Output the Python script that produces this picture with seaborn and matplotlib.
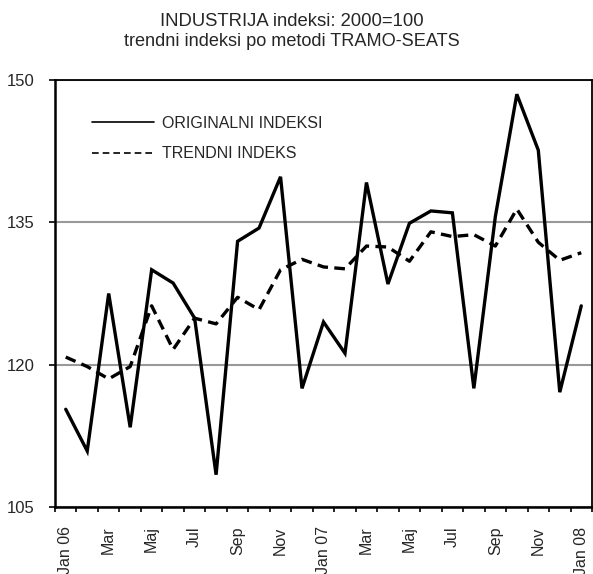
import numpy as np
import pandas as pd
import matplotlib
matplotlib.use("Agg")
import matplotlib.pyplot as plt
from matplotlib.lines import Line2D
import seaborn as sns

# ---- data ----
months = ["Jan 06", "Feb", "Mar", "Apr", "Maj", "Jun", "Jul", "Avg", "Sep", "Okt", "Nov", "Dec",
          "Jan 07", "Feb", "Mar", "Apr", "Maj", "Jun", "Jul", "Avg", "Sep", "Okt", "Nov", "Dec",
          "Jan 08"]
original = [115.3, 110.9, 127.5, 113.4, 130.0, 128.6, 124.9, 108.4, 133.0, 134.4, 139.8, 117.5,
            124.5, 121.2, 139.2, 128.5, 134.9, 136.2, 136.0, 117.5, 135.6, 148.5, 142.6, 117.1,
            126.2]
trend = [120.8, 119.8, 118.5, 119.8, 126.2, 121.6, 124.9, 124.3, 127.1, 125.8, 130.0, 131.1,
         130.3, 130.1, 132.5, 132.4, 130.9, 134.0, 133.5, 133.7, 132.5, 136.4, 132.9, 131.0,
         131.8]
series_names = ["ORIGINALNI INDEKSI", "TRENDNI INDEKS"]
title_lines = ["INDUSTRIJA indeksi: 2000=100", "trendni indeksi po metodi TRAMO-SEATS"]
y_ticks = [105, 120, 135, 150]

sns.set_theme(style="white")
plt.rcParams["font.family"] = ["Liberation Sans", "DejaVu Sans"]

df = pd.DataFrame({"idx": np.arange(len(months)), "orig": original, "trend": trend})

W, H = 593, 574
fig = plt.figure(figsize=(W / 100, H / 100), dpi=100)
L, R, T, B = 55, 592, 80, 507
ax = fig.add_axes([L / W, 1 - B / H, (R - L) / W, (B - T) / H])

sns.lineplot(data=df, x="idx", y="orig", ax=ax, color="black", lw=2.4, legend=False)
sns.lineplot(data=df, x="idx", y="trend", ax=ax, color="black", lw=2.4, legend=False)
ax.lines[1].set_dashes((3.2, 1.9))
for ln in ax.lines:
    ln.set_solid_joinstyle("miter")

n = len(months)
ax.set_xlim(-0.5, n - 0.5)
ax.set_ylim(105, 150)
ax.set_xlabel("")
ax.set_ylabel("")

# x: tick marks at category boundaries, labels at centres every 2nd month
ax.set_xticks(np.arange(n + 1) - 0.5)
ax.set_xticklabels([])
ax.set_xticks(np.arange(0, n, 2), minor=True)
ax.set_xticklabels([months[i] for i in range(0, n, 2)], minor=True, rotation=90,
                   fontsize=11.5, va="top", ha="center")
ax.tick_params(axis="x", which="major", direction="out", length=3.5, width=1.2,
               color="black", bottom=True)
ax.tick_params(axis="x", which="minor", length=0, pad=14, bottom=True)

ax.set_yticks(y_ticks)
ax.set_yticklabels([str(v) for v in y_ticks], fontsize=12)
ax.tick_params(axis="y", direction="out", length=4, width=1.2, color="black", pad=11, left=True)

ax.grid(False)
ax.yaxis.grid(True, color="#999999", lw=1.5)
for s in ["left", "bottom"]:
    ax.spines[s].set_linewidth(1.8)
    ax.spines[s].set_color("black")
for s in ["top", "right"]:
    ax.spines[s].set_linewidth(1.3)
    ax.spines[s].set_color("black")

handles = [Line2D([], [], color="black", lw=1.2),
           Line2D([], [], color="black", lw=1.2, dashes=(4, 2.4))]
ax.legend(handles, series_names, loc="upper left", frameon=False,
          bbox_to_anchor=(92 / W, 1 - 116 / H), bbox_transform=fig.transFigure,
          fontsize=11.5, handlelength=3.9, handletextpad=0.5, labelspacing=0.95,
          borderpad=0, borderaxespad=0)

fig.text(292 / W, 1 - 22 / H, title_lines[0], ha="center", va="center", fontsize=13.3)
fig.text(292 / W, 1 - 42 / H, title_lines[1], ha="center", va="center", fontsize=13.1)

fig.savefig("out.png", dpi=100)
